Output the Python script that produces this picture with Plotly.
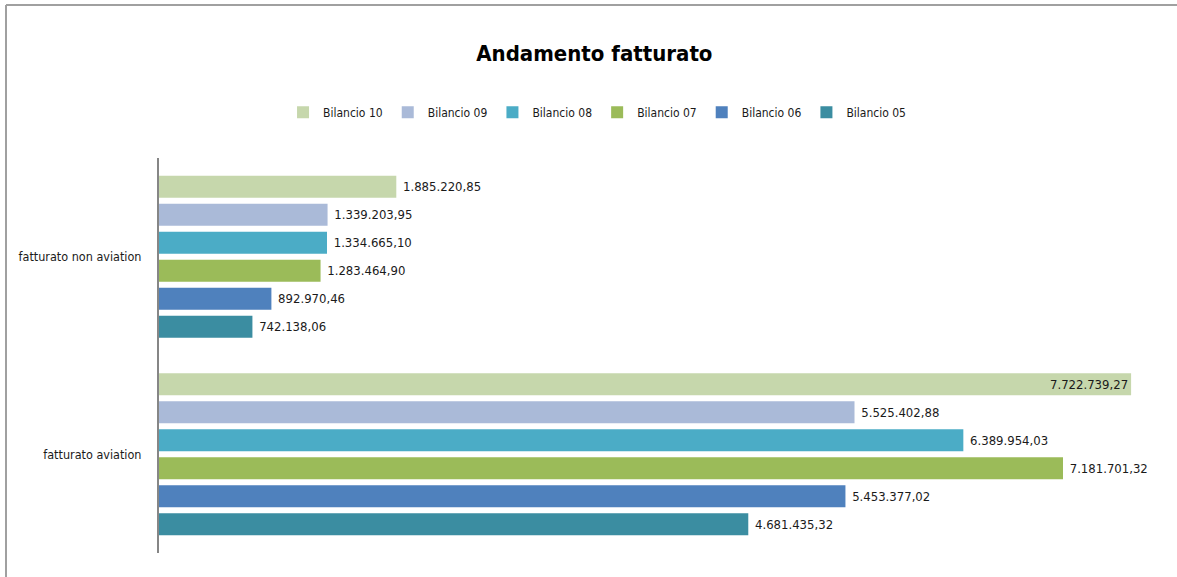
import plotly.graph_objects as go

categories = ["fatturato aviation", "fatturato non aviation"]
series_names = ["Bilancio 05", "Bilancio 06", "Bilancio 07", "Bilancio 08", "Bilancio 09", "Bilancio 10"]
bilancio_05 = [4681435.32, 742138.06]
bilancio_06 = [5453377.02, 892970.46]
bilancio_07 = [7181701.32, 1283464.90]
bilancio_08 = [6389954.03, 1334665.10]
bilancio_09 = [5525402.88, 1339203.95]
bilancio_10 = [7722739.27, 1885220.85]
series_values = [bilancio_05, bilancio_06, bilancio_07, bilancio_08, bilancio_09, bilancio_10]
colors = ["#3B8DA1", "#4F81BD", "#9BBB59", "#4BACC6", "#AABAD8", "#C6D7AC"]

FONT = "Liberation Sans Narrow, DejaVu Sans Condensed, Arial Narrow, sans-serif"
XMAX = 8.0e6
TXT = 13

fig = go.Figure()
for name, vals, col in zip(series_names, series_values, colors):
    pos = ["inside" if v > 0.95 * XMAX else "outside" for v in vals]
    fig.add_trace(go.Bar(
        y=categories, x=vals, name=name, orientation="h",
        marker=dict(color=col, line=dict(width=0)),
        texttemplate=" %{x:,.2f}", textposition=pos,
        insidetextanchor="end", constraintext="none",
        textfont=dict(family=FONT, size=TXT, color="#1a1a1a"),
        insidetextfont=dict(family=FONT, size=TXT, color="#1a1a1a"),
        outsidetextfont=dict(family=FONT, size=TXT, color="#1a1a1a"),
        cliponaxis=False,
    ))

fig.update_layout(
    width=1177, height=577,
    separators=",.",
    barmode="group", bargap=0.15, bargroupgap=0.21,
    paper_bgcolor="white", plot_bgcolor="white",
    margin=dict(l=159, r=11, t=158, b=24),
    font=dict(family=FONT, size=13, color="#1a1a1a"),
    title=dict(text="<b>Andamento fatturato</b>", x=0.505, xanchor="center",
               y=1 - 53 / 577, yanchor="middle",
               font=dict(family=FONT, size=22, color="#000000")),
    legend=dict(orientation="h", x=0.435, xanchor="center", y=1.116, yanchor="middle",
                traceorder="reversed", font=dict(family=FONT, size=12, color="#1a1a1a"),
                itemwidth=30, bgcolor="rgba(0,0,0,0)"),
    xaxis=dict(range=[0, XMAX], showgrid=False, showticklabels=False, zeroline=False,
               showline=False, ticks=""),
    yaxis=dict(showgrid=False, showline=True, linecolor="#868686", linewidth=2,
               ticks="", automargin=False,
               tickfont=dict(family=FONT, size=12.5, color="#1a1a1a"),
               ticklabelstandoff=13),
    shapes=[
        dict(type="line", xref="paper", yref="paper",
             x0=(6 - 159) / 1007, x1=(1177 - 159) / 1007 + 0.01,
             y0=(577 - 24 - 5) / 395, y1=(577 - 24 - 5) / 395,
             line=dict(color="#A0A0A0", width=2)),
        dict(type="line", xref="paper", yref="paper",
             x0=(6 - 159) / 1007, x1=(6 - 159) / 1007,
             y0=(577 - 24 - 5) / 395, y1=-24 / 395 - 0.01,
             line=dict(color="#A0A0A0", width=2)),
    ],
)

fig.write_html("out.html", config={"displayModeBar": False},
               post_script="document.body.style.margin='0';")
